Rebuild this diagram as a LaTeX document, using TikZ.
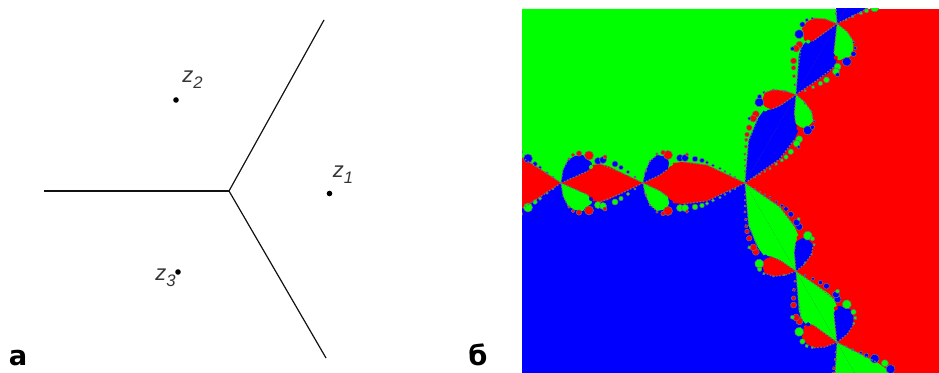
\documentclass[tikz,border=0pt]{standalone}
\usepackage{fontspec}
\setmainfont{Liberation Sans}
\newfontfamily\capfont{DejaVu Sans}
\usetikzlibrary{positioning}
\definecolor{ink}{HTML}{111111}
\definecolor{rootr}{HTML}{FF0000}
\definecolor{rootg}{HTML}{00FF00}
\definecolor{rootb}{HTML}{0000FF}
\definecolor{rim}{HTML}{6E6E78}
\newcommand{\zlabel}[1]{\fontsize{16.5}{17}\selectfont\itshape z\raisebox{-4.5pt}{\fontsize{12.5}{13}\selectfont #1}}

\begin{document}
\begin{tikzpicture}[
  x=0.75pt, y=0.75pt,
  wall/.style={draw=ink, line width=0.9pt},
  rootdot/.style={circle, fill=black, minimum size=4.2pt, inner sep=0pt},
  rootlab/.style={inner sep=0pt, text=ink!85, anchor=base west},
  panel/.style={inner sep=0pt, anchor=base west, font=\capfont\bfseries\fontsize{20.5}{21}\selectfont},
  beadline/.style={line width=0.9pt, dash pattern=on 1.2pt off 1.2pt},
  bead/.style={draw=rim, line width=0.4pt},
]
\useasboundingbox (0,0) rectangle (939,373);

\coordinate (hub) at (229,182);
\coordinate (westend) at (44,182);
\coordinate (northend) at (324,353);
\coordinate (southend) at (326,15);
\draw[wall] (westend) -- (hub);
\draw[wall] (northend) -- (hub);
\draw[wall] (southend) -- (hub);

\node[rootdot] (z1) at (329.5,179.5) {};
\node[rootdot] (z2) at (176,273) {};
\node[rootdot] (z3) at (178,101) {};
\node[rootlab] (z1lab) at (332.5,195) {\zlabel{1}};
\node[rootlab] (z2lab) at (182,290) {\zlabel{2}};
\node[rootlab] (z3lab) at (155,92) {\zlabel{3}};

\node[panel] (pa) at (8.5,7.5) {а};
\node[panel] (pb) at (468,7.5) {б};

\begin{scope}
  \clip (522,0) rectangle (939,364);
  \coordinate (seed) at (745,190);
  \fill[rootr] (522,0) rectangle (939,364);
  \fill[rootg] (seed) -- (522,190) -- (522,364) -- (845,364) -- cycle;
  \fill[rootb] (seed) -- (522,190) -- (522,0) -- (855,0) -- cycle;
  \foreach \turn/\mainc/\upc/\downc in {0/rootr/rootb/rootg,-120/rootb/rootg/rootr,120/rootg/rootr/rootb}
    \foreach \flip/\lobec/\backc in {1/\upc/\downc,-1/\downc/\upc} {
      \begin{scope}[shift={(seed)}, rotate=\turn, yscale=\flip]
        % nearest lens
        \fill[fill=\mainc] (0,0) -- (-38,18) -- (-52,20) -- (-62,21) -- (-72,20) -- (-77,14) -- (-85,8) -- (-102,0) -- cycle;
        \fill[fill=\lobec] (-102,0) -- (-100,11) -- (-95,22) -- (-88,28) -- (-78,26) -- (-76,20) -- (-77,14) -- (-85,8) -- cycle;
        \fill[fill=\backc] (-74,19) circle (2);
        \foreach \bx/\by/\br in {-65/25/3.5,-60/25/3.5,-50/24/2.8,-43/22.5/2.3,-38/20.5/1.8,-32/17.5/1.5,-25/14.5/1.2,-20/11.5/1,-15/8.5/.9,-10/6/.7}
          \fill[bead, fill=\lobec] (\bx,\by) circle (\br);
        \foreach \bx/\by/\br in {-77/28/4.5,-82/30.5/2.2,-88/29/1.3,-58/28.5/1.8,-95/22/.9,-99/12/.9}
          \fill[bead, fill=\mainc] (\bx,\by) circle (\br);
        \draw[beadline, draw=rim] (0,0) -- (-38,18) -- (-62,21);
        \draw[beadline, draw=rim] (-102,0) -- (-100,11) -- (-95,22) -- (-88,28);
        \draw[beadline, draw=rim] (-102,0) -- (-85,8) -- (-77,14);
        % middle lens
        \begin{scope}[shift={(-102,0)}]
          \fill[fill=\mainc] (0,0) -- (-23,11) -- (-35,17) -- (-43,19) -- (-50,18) -- (-55,12) -- (-82,0) -- cycle;
          \fill[fill=\lobec] (-82,0) -- (-80,13) -- (-75,23) -- (-68,27) -- (-60,28) -- (-58,25) -- (-52,21) -- (-51,19) -- (-55,12) -- cycle;
          \fill[fill=\backc] (-52,16) circle (2);
          \foreach \bx/\by/\br in {-45/22/3.5,-40/23/3.5,-28/19/3,-22/15.5/2.2,-15/11/1.7,-8/6/1.1}
            \fill[bead, fill=\lobec] (\bx,\by) circle (\br);
          \foreach \bx/\by/\br in {-54/27.5/4.5,-64/29.5/2.7,-70/28/1.8,-74/24/1.3,-38/26/2}
            \fill[bead, fill=\mainc] (\bx,\by) circle (\br);
          \draw[beadline, draw=rim] (0,0) -- (-23,11) -- (-43,19);
          \draw[beadline, draw=rim] (-82,0) -- (-80,13) -- (-75,23);
          \draw[beadline, draw=rim] (-82,0) -- (-55,12);
        \end{scope}
        % outer lens
        \begin{scope}[shift={(-184,0)}]
          \fill[fill=\mainc] (0,0) -- (-21,14) -- (-38,25) -- (-47,29) -- (-60,34) -- (-75,10) -- (-75,0) -- cycle;
          \foreach \bx/\by/\br in {-8/6/.9,-14/10/1.3,-21/15.5/1.8,-26/19/2.3,-33/24.5/4.5,-50/33/4.5}
            \fill[bead, fill=\lobec] (\bx,\by) circle (\br);
          \fill[bead, fill=\mainc] (-42,31) circle (3.5);
          \draw[beadline, draw=rim] (0,0) -- (-21,14) -- (-38,25);
        \end{scope}
      \end{scope}
    }
\end{scope}
\end{tikzpicture}
\end{document}
